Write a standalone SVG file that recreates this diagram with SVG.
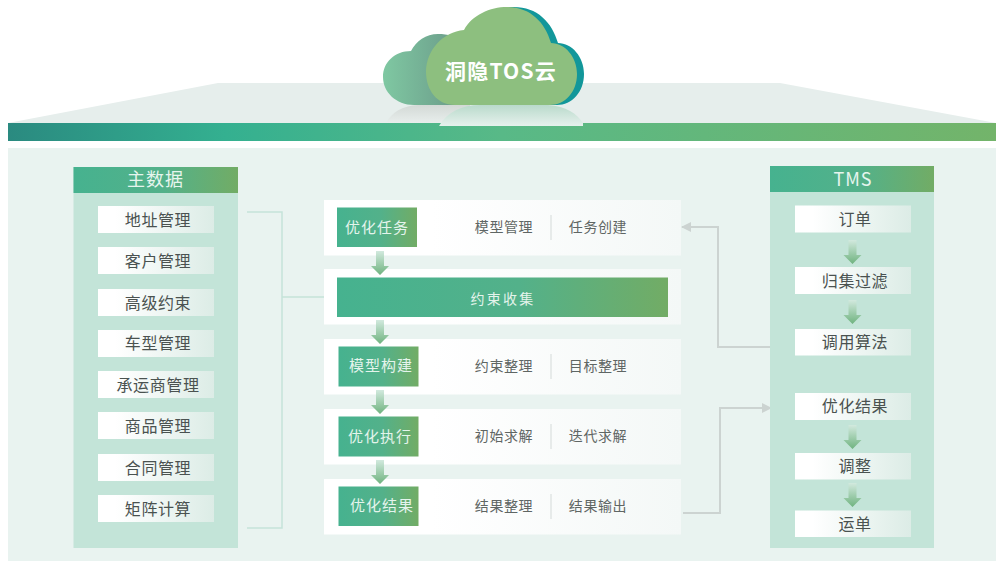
<svg xmlns="http://www.w3.org/2000/svg" width="1002" height="566" viewBox="0 0 1002 566">
<defs>
<linearGradient id="hdr" x1="0" x2="1" y1="0" y2="0"><stop offset="0" stop-color="#46b28f"/><stop offset="0.55" stop-color="#53b18a"/><stop offset="1" stop-color="#72ac65"/></linearGradient>
<linearGradient id="bar" x1="0" x2="1" y1="0" y2="0"><stop offset="0" stop-color="#2a8a80"/><stop offset="0.22" stop-color="#34b090"/><stop offset="0.5" stop-color="#58b987"/><stop offset="1" stop-color="#73b46a"/></linearGradient>
<linearGradient id="item" x1="0" x2="1" y1="0" y2="0"><stop offset="0.15" stop-color="#ffffff"/><stop offset="1" stop-color="#dcece6"/></linearGradient>
<linearGradient id="row" x1="0" x2="1" y1="0" y2="0"><stop offset="0.3" stop-color="#ffffff"/><stop offset="1" stop-color="#f4f8f7"/></linearGradient>
<linearGradient id="arr" x1="0" x2="0" y1="0" y2="1"><stop offset="0" stop-color="#d2e9de"/><stop offset="1" stop-color="#6fb37f"/></linearGradient>
<linearGradient id="back" x1="0" x2="1" y1="0" y2="0"><stop offset="0" stop-color="#7fc8a2"/><stop offset="1" stop-color="#6a9888"/></linearGradient>
<linearGradient id="refl1" x1="0" x2="0" y1="0" y2="1"><stop offset="0" stop-color="#b9dacb"/><stop offset="1" stop-color="#e6f1ed"/></linearGradient>
<linearGradient id="refl2" x1="0" x2="0" y1="0" y2="1"><stop offset="0" stop-color="#d3d9d6"/><stop offset="1" stop-color="#e8eeec"/></linearGradient>
<marker id="tip" markerWidth="10" markerHeight="10" refX="9" refY="5" orient="auto" markerUnits="userSpaceOnUse"><path d="M0,0 L10,5 L0,10 Z" fill="#ccd3d1"/></marker>
<path id="da" d="M-4,0 H4 V15 H9 L0,24 L-9,15 H-4 Z" fill="url(#arr)"/>
</defs>
<style>
text{font-family:"Noto Sans CJK SC","Liberation Sans",sans-serif;text-anchor:middle}
.p{fill:#c3e4d8}
.h{fill:url(#hdr)}
.i{fill:url(#item)}
.r{fill:url(#row)}
.ht{font-size:18px;letter-spacing:1px;fill:#e6f5ee}
.it{font-size:16px;letter-spacing:.6px;fill:#4a5250}
.ct{font-size:15px;letter-spacing:1px;fill:#e4f4ec}
.st{font-size:14px;letter-spacing:.6px;fill:#5f6664}
.cb{font-size:14px;letter-spacing:2.200px;fill:#e4f4ec}
.sep{stroke:#e0e6e4;stroke-width:1.5;fill:none}
.l1{fill:none;stroke:#c5e3d9;stroke-width:1.5}
.l2{fill:none;stroke:#ccd3d1;stroke-width:2;marker-end:url(#tip)}
</style>
<rect width="1002" height="566" fill="#ffffff"/>
<g id="base">
<polygon points="8,123 218,83 780,83 996,123" fill="#e6eeec"/>
<rect x="8" y="148" width="988" height="413" fill="#e9f3f0"/>
</g>
<rect id="bar-main" x="8" y="123" width="988" height="18" fill="url(#bar)"/>
<g id="cloud">
<path d="M386,123 C392,112 402,106 418,105 H470 V123 Z" fill="url(#refl2)"/>
<path d="M439,126 C447,112 462,105 480,105 H548 C566,106 577,114 583,123 V126 Z" fill="url(#refl1)"/>
<path d="M414,105 C396,105 383,92 383,77 C383,62 395,51 411,51 C416,41 426,34 438,34 C448,34 456,36 464,42 V105 Z" fill="url(#back)"/>
<path d="M462,105 C444,105 433,90 433,72 C433,50 450,32 471,30 C479,15 497,7 514,7 C537,7 552,22 558,43 C572,43 584,57 584,74 C584,92 572,105 557,105 Z" fill="#12979a"/>
<path d="M455,105 C437,105 426,90 426,72 C426,50 443,32 464,30 C472,15 490,7 507,7 C530,7 545,22 551,43 C565,43 577,57 577,74 C577,92 565,105 550,105 Z" fill="#8dbf7f"/>
<text x="501" y="79" font-size="21" font-weight="700" letter-spacing="1.200" fill="#ffffff">洞隐TOS云</text>
</g>
<g id="connectors">
<path class="l1" d="M247,212 H282 V528 H247"/>
<path class="l1" d="M282,297 H326"/>
<path class="l2" d="M771,347 H718 V227 H682"/>
<path class="l2" d="M683,513 H720 V408 H771"/>
</g>
<g id="master-data">
<rect class="p" x="73.500" y="167" width="164.500" height="381"/>
<rect class="h" x="73.500" y="167" width="164.500" height="26"/>
<text class="ht" x="155.500" y="186">主数据</text>
</g>
<g id="n-addr"><rect class="i" x="98" y="206" width="116" height="27"/><text class="it" x="158" y="226">地址管理</text></g>
<g id="n-cust"><rect class="i" x="98" y="247" width="116" height="27"/><text class="it" x="158" y="267">客户管理</text></g>
<g id="n-cons"><rect class="i" x="98" y="289" width="116" height="27"/><text class="it" x="158" y="309">高级约束</text></g>
<g id="n-car"><rect class="i" x="98" y="330" width="116" height="27"/><text class="it" x="158" y="349">车型管理</text></g>
<g id="n-carrier"><rect class="i" x="98" y="371" width="116" height="27"/><text class="it" x="158" y="391">承运商管理</text></g>
<g id="n-goods"><rect class="i" x="98" y="412" width="116" height="27"/><text class="it" x="158" y="432">商品管理</text></g>
<g id="n-contract"><rect class="i" x="98" y="454" width="116" height="27"/><text class="it" x="158" y="474">合同管理</text></g>
<g id="n-matrix"><rect class="i" x="98" y="495" width="116" height="27"/><text class="it" x="158" y="515">矩阵计算</text></g>

<g id="row-1">
<rect class="r" x="324" y="200" width="357" height="55.500"/>
<rect class="h" x="337" y="207.500" width="80" height="39.500"/>
<text class="ct" x="377" y="233">优化任务</text>
<text class="st" x="504" y="232">模型管理</text><path class="sep" d="M551,215 V240"/><text class="st" x="598" y="232">任务创建</text>
</g>
<g id="row-2">
<rect class="r" x="324" y="269" width="357" height="55.500"/>
<rect class="h" x="337" y="277.500" width="331" height="39.500"/>
<text class="cb" x="503" y="304">约束收集</text>
</g>
<g id="row-3">
<rect class="r" x="324" y="339" width="357" height="55.500"/>
<rect class="h" x="338.500" y="346.500" width="80" height="40"/>
<text class="ct" x="381" y="371">模型构建</text>
<text class="st" x="504" y="371">约束整理</text><path class="sep" d="M551,354 V379"/><text class="st" x="598" y="371">目标整理</text>
</g>
<g id="row-4">
<rect class="r" x="324" y="409" width="357" height="55.500"/>
<rect class="h" x="338.500" y="416.500" width="80" height="40"/>
<text class="ct" x="380" y="442">优化执行</text>
<text class="st" x="504" y="441">初始求解</text><path class="sep" d="M551,424 V449"/><text class="st" x="598" y="441">迭代求解</text>
</g>
<g id="row-5">
<rect class="r" x="324" y="479" width="357" height="55.500"/>
<rect class="h" x="338.500" y="486.500" width="80" height="39.500"/>
<text class="ct" x="382" y="511">优化结果</text>
<text class="st" x="504" y="511">结果整理</text><path class="sep" d="M551,494 V519"/><text class="st" x="598" y="511">结果输出</text>
</g>

<g id="tms">
<rect class="p" x="770" y="166" width="164" height="382"/>
<rect class="h" x="770" y="166" width="164" height="26"/>
<text class="ht" x="853" y="186">TMS</text>
</g>
<g id="t-order"><rect class="i" x="795" y="205.500" width="116" height="27"/><text class="it" x="855" y="225">订单</text></g>
<g id="t-filter"><rect class="i" x="795" y="267" width="116" height="27"/><text class="it" x="855" y="287">归集过滤</text></g>
<g id="t-algo"><rect class="i" x="795" y="329" width="116" height="26.500"/><text class="it" x="855" y="348">调用算法</text></g>
<g id="t-result"><rect class="i" x="795" y="393" width="116" height="27"/><text class="it" x="855" y="412">优化结果</text></g>
<g id="t-adjust"><rect class="i" x="795" y="453" width="116" height="26.500"/><text class="it" x="855" y="472">调整</text></g>
<g id="t-ship"><rect class="i" x="795" y="510.500" width="116" height="26.500"/><text class="it" x="855" y="530">运单</text></g>

<g id="flow-arrows">
<use href="#da" x="380" y="251"/><use href="#da" x="380" y="320"/><use href="#da" x="380" y="390"/><use href="#da" x="380" y="460"/>
<use href="#da" x="852.500" y="240"/><use href="#da" x="852.500" y="300"/><use href="#da" x="852.500" y="425"/><use href="#da" x="852.500" y="483"/>
</g>
</svg>
